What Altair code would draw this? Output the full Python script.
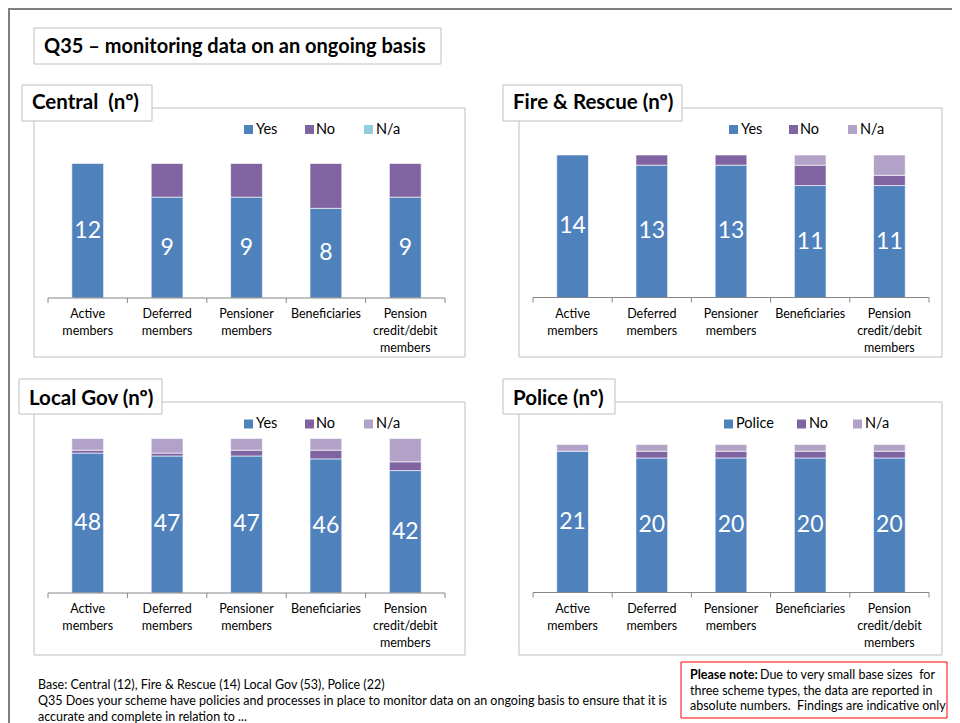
import altair as alt
import pandas as pd

# ---------------- data ----------------
categories = ["Active members", "Deferred members", "Pensioner members",
              "Beneficiaries", "Pension credit/debit members"]
category_labels = ["Active\nmembers", "Deferred\nmembers", "Pensioner\nmembers",
                   "Beneficiaries", "Pension\ncredit/debit\nmembers"]

central_yes = [12, 9, 9, 8, 9]
central_no = [0, 3, 3, 4, 3]
central_na = [0, 0, 0, 0, 0]

fire_yes = [14, 13, 13, 11, 11]
fire_no = [0, 1, 1, 2, 1]
fire_na = [0, 0, 0, 1, 2]

local_yes = [48, 47, 47, 46, 42]
local_no = [1, 1, 2, 3, 3]
local_na = [4, 5, 4, 4, 8]

police_yes = [21, 20, 20, 20, 20]
police_no = [0, 1, 1, 1, 1]
police_na = [1, 1, 1, 1, 1]

base_sizes = {"Central": 12, "Fire & Rescue": 14, "Local Gov": 53, "Police": 22}

series_names = ["Yes", "No", "N/a"]
police_series_names = ["Police", "No", "N/a"]

# ---------------- style ----------------
FONT = "Lato"
BLUE = "#4F81BD"
PURPLE = "#8064A2"
LILAC = "#B3A2C7"
LIGHTBLUE = "#93CDDD"
FRAME = "#BFBFBF"
OX, OY = 8, 8  # page margin
NB = "\u00a0"

one = pd.DataFrame({"a": [0]})


def box(x0, y0, x1, y1, stroke=FRAME, fill="white", sw=1.0):
    return alt.Chart(one).mark_rect(fill=fill, stroke=stroke, strokeWidth=sw).encode(
        x=alt.value(x0 - OX), x2=alt.value(x1 - OX),
        y=alt.value(y0 - OY), y2=alt.value(y1 - OY))


def label(txt, x, y, size, bold=False, color="black", align="left"):
    return alt.Chart(one).mark_text(
        text=txt, font=FONT, fontSize=size, fontWeight="bold" if bold else "normal",
        color=color, align=align, baseline="middle").encode(
        x=alt.value(x - OX), y=alt.value(y - OY))


def panel(yes, no, na, na_color, x0, x1, ybase, ytop):
    total = yes[0] + no[0] + na[0]
    rows = []
    for i, c in enumerate(categories):
        for k, (v, col) in enumerate([(yes[i], BLUE), (no[i], PURPLE), (na[i], na_color)]):
            if v > 0:
                rows.append(dict(cat=c, v=v, col=col, ord=k))
    df = pd.DataFrame(rows)
    xs = alt.Scale(domain=categories, range=[x0 - OX, x1 - OX],
                   paddingInner=0.6, paddingOuter=0.3)
    ys = alt.Scale(domain=[0, total], range=[ybase - OY, ytop - OY], nice=False)
    bars = alt.Chart(df).mark_bar(stroke="white", strokeWidth=0.6).encode(
        x=alt.X("cat:N", scale=xs, axis=None),
        y=alt.Y("v:Q", scale=ys, axis=None, stack="zero"),
        color=alt.Color("col:N", scale=None),
        order=alt.Order("ord:Q", sort="ascending"))
    dv = pd.DataFrame({"cat": categories, "yes": yes, "mid": [y / 2 for y in yes]})
    vals = alt.Chart(dv).mark_text(font=FONT, fontSize=23, color="white",
                                   baseline="middle").encode(
        x=alt.X("cat:N", scale=xs, axis=None),
        y=alt.Y("mid:Q", scale=ys, axis=None, stack=None),
        text="yes:Q")
    dl = pd.DataFrame({"cat": categories, "lab": category_labels})
    labs = alt.Chart(dl).mark_text(font=FONT, fontSize=12.5, color="black",
                                   baseline="top", lineBreak="\n", lineHeight=17).encode(
        x=alt.X("cat:N", scale=xs, axis=None),
        y=alt.value(ybase + 10 - OY),
        text="lab:N")
    inner = alt.layer(bars, vals, labs)
    # axis line and ticks at category boundaries
    axis_line = alt.Chart(one).mark_rule(color="#868686", strokeWidth=1).encode(
        x=alt.value(x0 - OX), x2=alt.value(x1 - OX), y=alt.value(ybase - OY))
    tdf = pd.DataFrame({"i": list(range(len(categories) + 1))})
    ticks = alt.Chart(tdf).mark_rule(color="#868686", strokeWidth=1).encode(
        x=alt.X("i:Q", scale=alt.Scale(domain=[0, len(categories)],
                                       range=[x0 - OX, x1 - OX]), axis=None),
        y=alt.value(ybase - OY), y2=alt.value(ybase + 5 - OY))
    return [inner, axis_line, ticks]


def legend(names, colors, sw_x, txt_x, yc):
    out = []
    for n, c, sx, tx in zip(names, colors, sw_x, txt_x):
        out.append(box(sx, yc - 4.5, sx + 9, yc + 4.5, stroke=c, fill=c, sw=0))
        out.append(label(n, tx, yc, 14.5))
    return out


layers = []
# outer slide frame
layers.append(alt.Chart(one).mark_rect(fill="white", stroke="#7F7F7F", strokeWidth=2).encode(
    x=alt.value(1), x2=alt.value(1000), y=alt.value(1), y2=alt.value(900)))

# title
layers.append(box(34, 28, 441, 64))
layers.append(label("Q35 \u2013 monitoring data on an ongoing basis", 44, 46.5, 20, bold=True))

# panel frames
layers.append(box(34, 108, 465, 357))
layers.append(box(519, 108, 942, 357))
layers.append(box(34, 402, 465, 655))
layers.append(box(519, 402, 942, 655))

# panels
layers += panel(central_yes, central_no, central_na, LIGHTBLUE, 48, 445, 298, 163.5)
layers += panel(fire_yes, fire_no, fire_na, LILAC, 533, 929, 297.5, 155)
layers += panel(local_yes, local_no, local_na, LILAC, 48, 445, 593, 438.5)
layers += panel(police_yes, police_no, police_na, LILAC, 533, 929, 592.5, 444.5)

# legends
layers += legend(series_names, [BLUE, PURPLE, LIGHTBLUE], [244, 305, 364], [256, 316, 376], 129.5)
layers += legend(series_names, [BLUE, PURPLE, LILAC], [729, 789, 848], [741, 800, 860], 129.5)
layers += legend(series_names, [BLUE, PURPLE, LILAC], [244, 305, 364], [256, 316, 376], 424)
layers += legend(police_series_names, [BLUE, PURPLE, LILAC], [724, 797, 853], [736, 809, 865], 424)

# panel title boxes
layers.append(box(22, 85, 152, 121))
layers.append(label("Central" + NB + NB + "(n\u00ba)", 32, 103, 20.5, bold=True))
layers.append(box(503, 85, 682, 121))
layers.append(label("Fire & Rescue (n\u00ba)", 513, 103, 20.5, bold=True))
layers.append(box(19, 379, 162, 414))
layers.append(label("Local Gov (n\u00ba)", 29, 398.5, 20.5, bold=True))
layers.append(box(503, 379, 615, 414))
layers.append(label("Police (n\u00ba)", 513, 398.5, 20.5, bold=True))

# footer
base_txt = "Base: Central ({}), Fire & Rescue ({}) Local Gov ({}), Police ({})".format(
    base_sizes["Central"], base_sizes["Fire & Rescue"], base_sizes["Local Gov"], base_sizes["Police"])
layers.append(label(base_txt, 38, 685, 12.5))
layers.append(label("Q35 Does your scheme have policies and processes in place to monitor data on an ongoing basis to ensure that it is", 38, 701, 12.5))
layers.append(label("accurate and complete in relation to ...", 38, 716.5, 12.5))

# note box
layers.append(box(681, 662, 947, 718, stroke="#FF0000"))
layers.append(label("Please note:", 690, 675, 12.5, bold=True))
layers.append(label("Due to very small base sizes" + NB + NB + "for", 760, 675, 12.5))
layers.append(label("three scheme types, the data are reported in", 690, 690.5, 12.5))
layers.append(label("absolute numbers." + NB + NB + "Findings are indicative only", 690, 706, 12.5))

chart = alt.layer(*layers).resolve_scale(x="independent", y="independent").properties(
    width=944, height=715, autosize=alt.AutoSizeParams(type="none"), padding=0
).configure_view(stroke=None)

chart.save("out.html", embed_options={"renderer": "svg", "actions": False})
